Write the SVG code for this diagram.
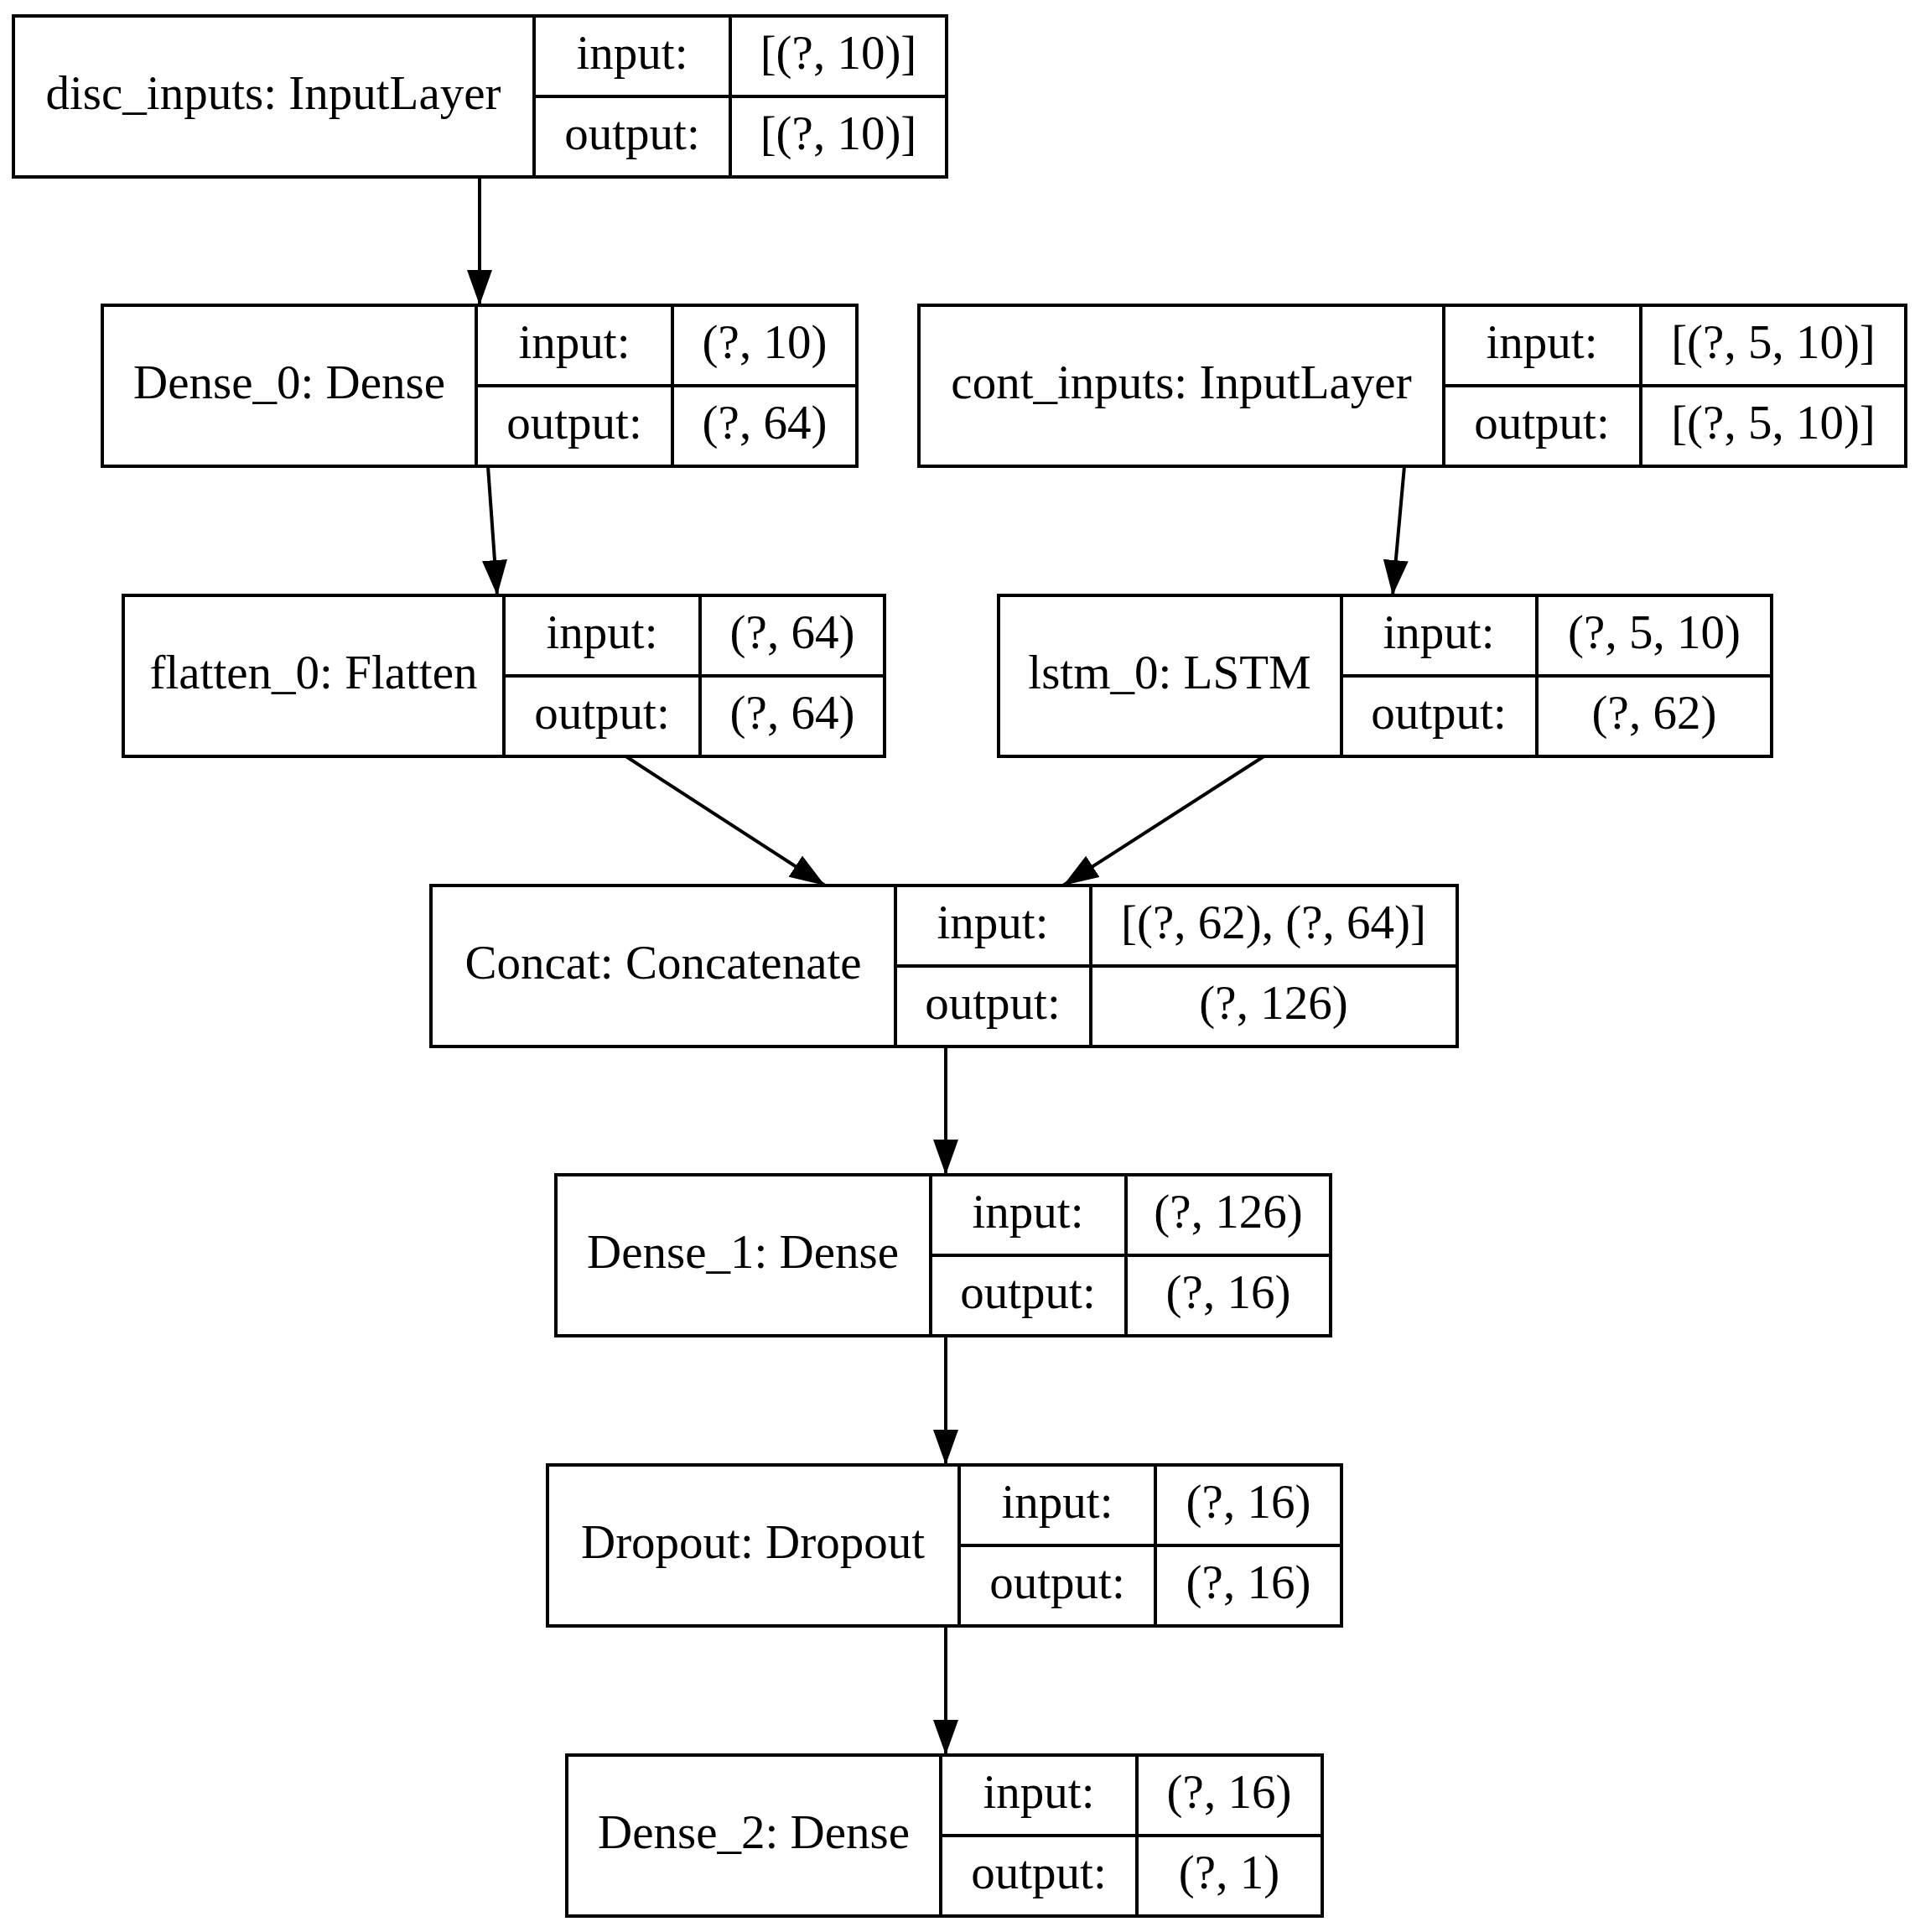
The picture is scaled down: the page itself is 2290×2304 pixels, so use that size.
<svg xmlns="http://www.w3.org/2000/svg" width="2290" height="2304" viewBox="0 0 2290 2304">
<style>
.box{fill:#fff;stroke:#000;stroke-width:4}
.div{stroke:#000;stroke-width:4;fill:none}
text{font-family:"Liberation Serif","Times New Roman",serif;font-size:57px;fill:#000;text-anchor:middle}
.edge{stroke:#000;stroke-width:4;fill:none;marker-end:url(#arr)}
</style>
<defs>
<marker id="arr" viewBox="0 0 42 30" refX="42" refY="15" markerWidth="42" markerHeight="30" markerUnits="userSpaceOnUse" orient="auto">
<path d="M0,0 L42,15 L0,30 z" fill="#000"/>
</marker>
</defs>
<rect width="2290" height="2304" fill="#fff"/>
<g id="connectors">
<line class="edge" x1="572" y1="210" x2="572" y2="364"/>
<line class="edge" x1="582" y1="556" x2="593" y2="710"/>
<line class="edge" x1="1675" y1="556" x2="1661" y2="710"/>
<line class="edge" x1="745" y1="901" x2="984" y2="1056"/>
<line class="edge" x1="1509" y1="901" x2="1268" y2="1056"/>
<line class="edge" x1="1128" y1="1248" x2="1128" y2="1401"/>
<line class="edge" x1="1128" y1="1593" x2="1128" y2="1747"/>
<line class="edge" x1="1128" y1="1939" x2="1128" y2="2093"/>
</g>
<g id="disc_inputs">
<rect class="box" x="16" y="19" width="1113" height="192"/>
<path class="div" d="M637,19V211M871,19V211M637,115H1129"/>
<text x="326" y="130">disc_inputs: InputLayer</text>
<text x="754" y="82">input:</text><text x="1000" y="82">[(?, 10)]</text>
<text x="754" y="178">output:</text><text x="1000" y="178">[(?, 10)]</text>
</g>
<g id="Dense_0">
<rect class="box" x="122" y="364" width="900" height="192"/>
<path class="div" d="M568,364V556M802,364V556M568,460H1022"/>
<text x="345" y="475">Dense_0: Dense</text>
<text x="685" y="427">input:</text><text x="912" y="427">(?, 10)</text>
<text x="685" y="523">output:</text><text x="912" y="523">(?, 64)</text>
</g>
<g id="cont_inputs">
<rect class="box" x="1096" y="364" width="1177" height="192"/>
<path class="div" d="M1722,364V556M1957,364V556M1722,460H2273"/>
<text x="1409" y="475">cont_inputs: InputLayer</text>
<text x="1839" y="427">input:</text><text x="2115" y="427">[(?, 5, 10)]</text>
<text x="1839" y="523">output:</text><text x="2115" y="523">[(?, 5, 10)]</text>
</g>
<g id="flatten_0">
<rect class="box" x="147" y="710" width="908" height="192"/>
<path class="div" d="M601,710V902M835,710V902M601,806H1055"/>
<text x="374" y="821">flatten_0: Flatten</text>
<text x="718" y="773">input:</text><text x="945" y="773">(?, 64)</text>
<text x="718" y="869">output:</text><text x="945" y="869">(?, 64)</text>
</g>
<g id="lstm_0">
<rect class="box" x="1191" y="710" width="922" height="192"/>
<path class="div" d="M1600,710V902M1833,710V902M1600,806H2113"/>
<text x="1395" y="821">lstm_0: LSTM</text>
<text x="1716" y="773">input:</text><text x="1973" y="773">(?, 5, 10)</text>
<text x="1716" y="869">output:</text><text x="1973" y="869">(?, 62)</text>
</g>
<g id="Concat">
<rect class="box" x="514" y="1056" width="1224" height="192"/>
<path class="div" d="M1068,1056V1248M1301,1056V1248M1068,1152H1738"/>
<text x="791" y="1167">Concat: Concatenate</text>
<text x="1184" y="1119">input:</text><text x="1519" y="1119">[(?, 62), (?, 64)]</text>
<text x="1184" y="1215">output:</text><text x="1519" y="1215">(?, 126)</text>
</g>
<g id="Dense_1">
<rect class="box" x="663" y="1401" width="924" height="192"/>
<path class="div" d="M1110,1401V1593M1343,1401V1593M1110,1497H1587"/>
<text x="886" y="1512">Dense_1: Dense</text>
<text x="1226" y="1464">input:</text><text x="1465" y="1464">(?, 126)</text>
<text x="1226" y="1560">output:</text><text x="1465" y="1560">(?, 16)</text>
</g>
<g id="Dropout">
<rect class="box" x="653" y="1747" width="947" height="192"/>
<path class="div" d="M1144,1747V1939M1378,1747V1939M1144,1843H1600"/>
<text x="898" y="1858">Dropout: Dropout</text>
<text x="1261" y="1810">input:</text><text x="1489" y="1810">(?, 16)</text>
<text x="1261" y="1906">output:</text><text x="1489" y="1906">(?, 16)</text>
</g>
<g id="Dense_2">
<rect class="box" x="676" y="2093" width="901" height="192"/>
<path class="div" d="M1122,2093V2285M1356,2093V2285M1122,2189H1577"/>
<text x="899" y="2204">Dense_2: Dense</text>
<text x="1239" y="2156">input:</text><text x="1466" y="2156">(?, 16)</text>
<text x="1239" y="2252">output:</text><text x="1466" y="2252">(?, 1)</text>
</g>
</svg>
